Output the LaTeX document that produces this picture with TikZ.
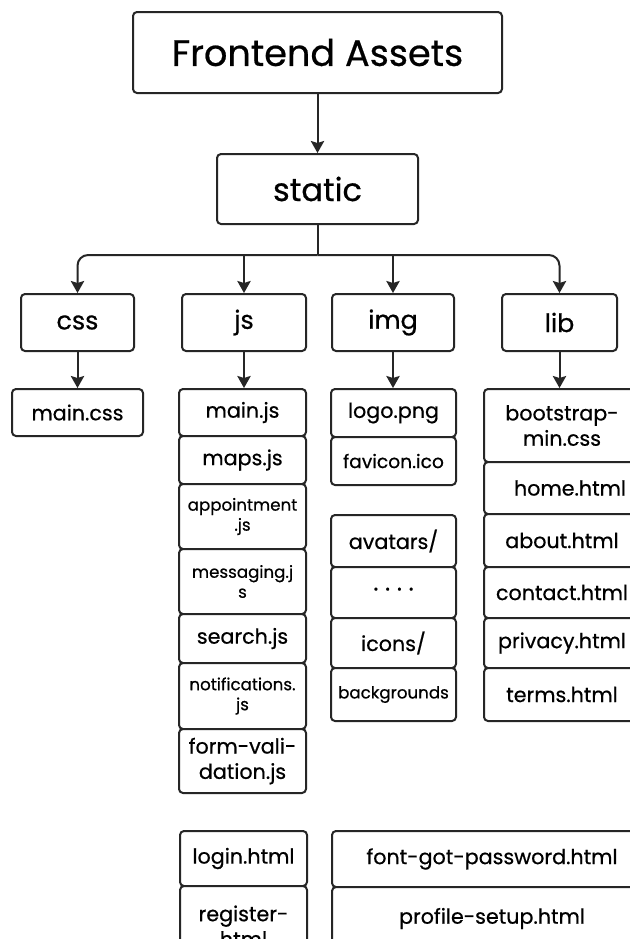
\documentclass[tikz,border=0pt]{standalone}
\usepackage{fontspec}
\setmainfont{Poppins}[RawFeature={embolden=0.6}]
\usetikzlibrary{arrows.meta}
\tikzset{
  box/.style={draw=black!85, line width=1.5pt, rounded corners=3pt, align=center, inner sep=0pt, fill=white,
    font=\fontsize{15.5}{19}\selectfont},
  arr/.style={draw=black!85, line width=1.5pt, -{Stealth[length=9pt,width=10pt,inset=1.5pt]}},
  ln/.style={draw=black!85, line width=1.5pt},
  big/.style={font=\fontsize{27.5}{33}\selectfont},
  mid/.style={font=\fontsize{19}{23}\selectfont},
  small/.style={font=\fontsize{12.5}{15}\selectfont},
  smaller/.style={font=\fontsize{14}{17}\selectfont},
}
\newcommand\bx[7][]{\node[box,#1, minimum width={(#5-#3)*0.75pt}, minimum height={(#6-#4)*0.75pt}] (#2) at ({(#3+#5)/2},{(#4+#6)/2}) {#7};}
\begin{document}
\begin{tikzpicture}[x=0.75pt,y=-0.75pt]
\path[use as bounding box, clip] (0,0) rectangle (630,939);
\fill[white] (0,0) rectangle (630,939);
% top
\bx[big]{fa}{133}{12}{502}{93}{Frontend Assets}
\bx[font=\fontsize{24}{29}\selectfont]{static}{217}{154}{418}{224}{static}
\bx[mid]{css}{21}{294}{134}{351}{css}
\bx[mid]{js}{182}{294}{306}{351}{js}
\bx[mid]{img}{332}{294}{454}{351}{img}
\bx[mid]{lib}{502}{294}{617}{351}{lib}
% css column
\bx{maincss}{12}{389}{143}{436}{main.css}
% js column
\bx{mainjs}{179}{389}{306}{436}{main.js}
\bx{maps}{179}{436}{306}{484}{maps.js}
\bx[small]{appt}{179}{484}{306}{549}{appointment\\.js}
\bx[small]{msg}{179}{549}{306}{614}{messaging.j\\s}
\bx{search}{179}{614}{306}{663}{search.js}
\bx[small]{notif}{179}{663}{306}{729}{notifications.\\js}
\bx{formval}{179}{729}{306}{793}{form-vali-\\dation.js}
\bx{login}{180}{831}{307}{886}{login.html}
\bx{register}{180}{886}{307}{966}{register-\\html}
% img column
\bx{logo}{331}{389}{456}{437}{logo.png}
\bx[smaller]{favicon}{331}{437}{456}{485}{favicon.ico}
\bx{avatars}{331}{515}{456}{567}{avatars/}
\bx[font=\fontsize{18}{22}\selectfont]{dots}{331}{567}{456}{618}{·\;·\;·\;·}
\bx{icons}{331}{618}{456}{668}{icons/}
\bx[small]{bg}{331}{668}{456}{721}{backgrounds}
% lib column
\bx{bootstrap}{484}{389}{640}{462}{bootstrap-\\min.css}
\bx{home}{484}{462}{640}{514}{\hspace*{12pt}home.html}
\bx{about}{484}{514}{640}{567}{about.html}
\bx{contact}{484}{567}{640}{618}{contact.html}
\bx{privacy}{484}{618}{640}{668}{privacy.html}
\bx{terms}{484}{668}{640}{721}{terms.html}
% bottom right
\bx{fgp}{332}{831}{652}{887}{font-got-password.html}
\bx{profile}{332}{887}{652}{950}{profile-setup.html}
% connectors
\draw[arr] (fa) -- (static);
\coordinate (bus) at (317.5,255);
\draw[ln] (static.south) -- (bus);
\draw[arr, rounded corners=8pt] (bus) -| (css.north);
\draw[arr, rounded corners=8pt] (bus) -| (lib.north);
\draw[arr] (bus -| js.north) -- (js.north);
\draw[arr] (bus -| img.north) -- (img.north);
\draw[arr] (css) -- (maincss);
\draw[arr] (js.south) -- (js.south |- mainjs.north);
\draw[arr] (img.south) -- (img.south |- logo.north);
\draw[arr] (lib.south) -- (lib.south |- bootstrap.north);
\end{tikzpicture}
\end{document}
